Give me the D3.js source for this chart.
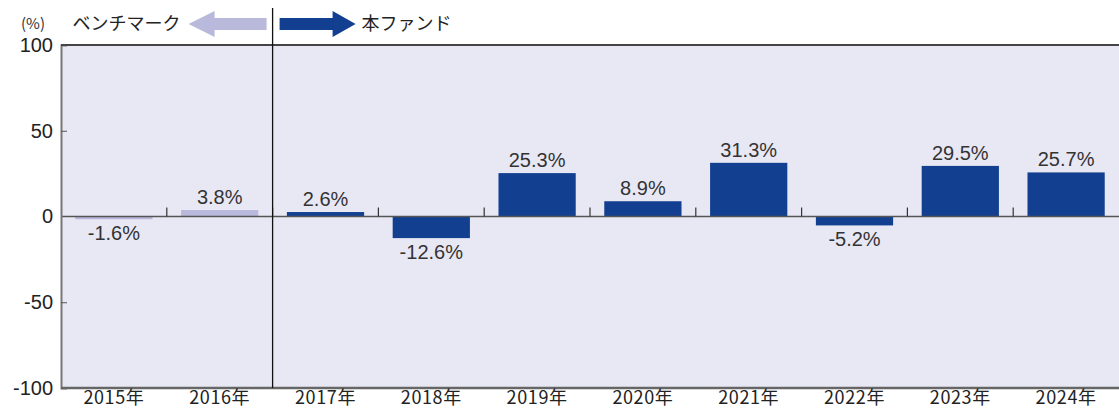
<!DOCTYPE html>
<html>
<head>
<meta charset="utf-8">
<script src="https://cdn.jsdelivr.net/npm/d3@7"></script>
<style>
  body { margin: 0; background: #fff; }
  svg { display: block; font-family: "Noto Sans CJK JP", "Noto Sans", sans-serif; }
</style>
</head>
<body>
<svg id="chart" width="1119" height="409"></svg>
<script>
// chart data
const years = ["2015年", "2016年", "2017年", "2018年", "2019年", "2020年", "2021年", "2022年", "2023年", "2024年"];
const returns = [-1.6, 3.8, 2.6, -12.6, 25.3, 8.9, 31.3, -5.2, 29.5, 25.7];
const isBenchmark = [true, true, false, false, false, false, false, false, false, false];
const yTicks = [100, 50, 0, -50, -100];
const legendLeft = "ベンチマーク";
const legendRight = "本ファンド";

const BENCH_COLOR = "#b9b9dc";
const FUND_COLOR = "#123f8f";
const NUM_FONT = "Liberation Sans, Arial, sans-serif";

const svg = d3.select("#chart");
const margin = { top: 45, right: 0, bottom: 21, left: 61 };
const W = 1119 - margin.left - margin.right;
const H = 409 - margin.top - margin.bottom;
const root = svg.append("g").attr("transform", `translate(${margin.left},${margin.top})`);

const x = d3.scaleBand().domain(years).range([0, W]).paddingInner(0.27).paddingOuter(0.135);
const step = x.step();
const y = d3.scaleLinear().domain([-100, 100]).range([H, 0]);

// plot background
root.append("rect").attr("width", W).attr("height", H).attr("fill", "#e8e8f5");

// bars
root.selectAll("rect.bar").data(returns).join("rect").attr("class", "bar")
  .attr("x", (d, i) => x(years[i])).attr("width", x.bandwidth())
  .attr("y", d => y(Math.max(0, d))).attr("height", d => Math.abs(y(d) - y(0)))
  .attr("fill", (d, i) => isBenchmark[i] ? BENCH_COLOR : FUND_COLOR);

// value labels
root.selectAll("text.val").data(returns).join("text").attr("class", "val")
  .attr("x", (d, i) => x(years[i]) + x.bandwidth() / 2)
  .attr("y", d => d >= 0 ? y(d) - 6 : y(d) + 21)
  .attr("text-anchor", "middle").attr("font-size", 20).attr("font-family", NUM_FONT).attr("fill", "#333")
  .text(d => d.toFixed(1) + "%");

// zero line with ticks between categories
root.append("line").attr("x1", 0).attr("x2", W).attr("y1", y(0)).attr("y2", y(0)).attr("stroke", "#555").attr("stroke-width", 1.5);
root.selectAll("line.sep").data(d3.range(1, years.length)).join("line").attr("class", "sep")
  .attr("x1", i => i * step).attr("x2", i => i * step).attr("y1", y(0)).attr("y2", y(0) - 9)
  .attr("stroke", "#333").attr("stroke-width", 1.2);

// y axis
const yAxis = root.append("g").call(d3.axisLeft(y).tickValues(yTicks).tickSize(-6).tickPadding(8).tickFormat(d => String(d)));
yAxis.select(".domain").attr("stroke", "#777").attr("stroke-width", 2);
yAxis.selectAll(".tick line").attr("stroke", "#555");
yAxis.selectAll(".tick text").attr("font-size", 20).attr("fill", "#222").attr("font-family", NUM_FONT);
yAxis.selectAll(".tick").filter(d => d === 0 || d === 100 || d === -100).select("line").remove();

// bottom and top borders
root.append("line").attr("x1", 0).attr("x2", W).attr("y1", H).attr("y2", H).attr("stroke", "#666").attr("stroke-width", 2.5);
root.append("line").attr("x1", 0).attr("x2", W).attr("y1", 0).attr("y2", 0).attr("stroke", "#444").attr("stroke-width", 2);

// x labels
root.selectAll("text.xlab").data(years).join("text").attr("class", "xlab")
  .attr("x", d => x(d) + x.bandwidth() / 2).attr("y", H + 16)
  .attr("text-anchor", "middle").attr("font-size", 18).attr("letter-spacing", 0.6).attr("fill", "#222").text(d => d);

// benchmark / fund divider
const divX = 2 * step;
root.append("line").attr("x1", divX).attr("x2", divX).attr("y1", -37).attr("y2", H).attr("stroke", "#111").attr("stroke-width", 1.3);

// legend arrows
const ay = -21;
root.append("path")
  .attr("d", `M${divX - 6},${ay - 6} L${divX - 58},${ay - 6} L${divX - 58},${ay - 13} L${divX - 84},${ay} L${divX - 58},${ay + 13} L${divX - 58},${ay + 6} L${divX - 6},${ay + 6} Z`)
  .attr("fill", BENCH_COLOR);
root.append("path")
  .attr("d", `M${divX + 7},${ay - 6} L${divX + 60},${ay - 6} L${divX + 60},${ay - 13} L${divX + 83},${ay} L${divX + 60},${ay + 13} L${divX + 60},${ay + 6} L${divX + 7},${ay + 6} Z`)
  .attr("fill", FUND_COLOR);
root.append("text").attr("x", divX - 92).attr("y", ay + 6).attr("text-anchor", "end").attr("font-size", 18).attr("fill", "#222").text(legendLeft);
root.append("text").attr("x", divX + 89).attr("y", ay + 6).attr("font-size", 18).attr("fill", "#222").text(legendRight);
root.append("text").attr("x", -40).attr("y", ay + 5).attr("font-size", 15).attr("fill", "#333").text("(%)");
</script>
</body>
</html>
